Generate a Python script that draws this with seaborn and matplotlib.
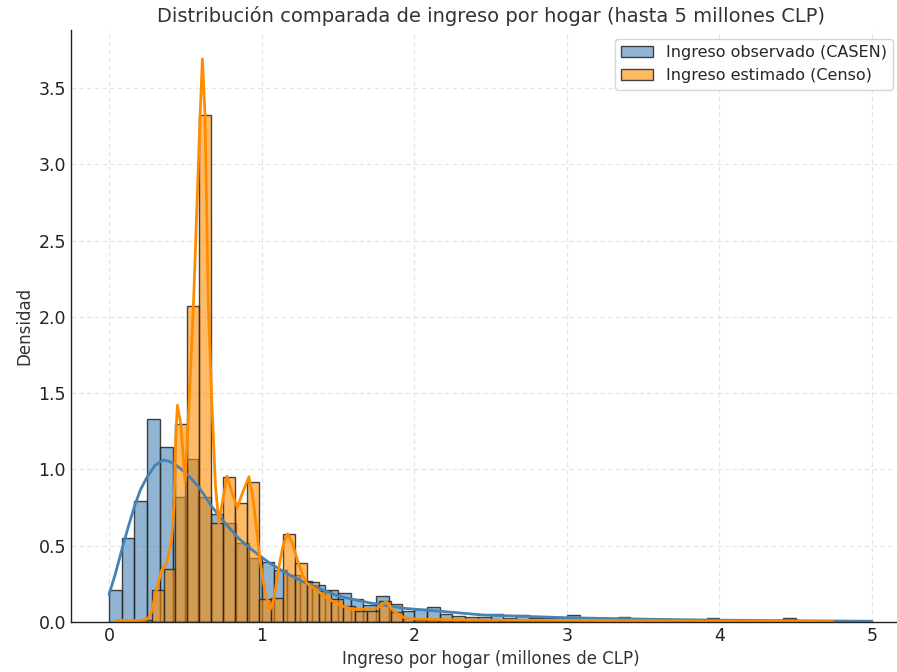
import numpy as np
import pandas as pd
import matplotlib
matplotlib.use("Agg")
import matplotlib.pyplot as plt
import seaborn as sns

# ---------------- data ----------------
casen_range = (0.0, 5.0)          # CASEN histogram range (60 bins)
casen_density = [0.21, 0.55, 0.79, 1.33, 1.15, 0.82, 1.07, 0.82, 0.71, 0.65,
                 0.52, 0.42, 0.39, 0.34, 0.31, 0.27, 0.24, 0.21, 0.19, 0.15,
                 0.11, 0.17, 0.12, 0.07, 0.085, 0.10, 0.05, 0.04, 0.035, 0.035,
                 0.05, 0.025, 0.045, 0.025, 0.025, 0.025, 0.045, 0.015, 0.015, 0.012,
                 0.03, 0.012, 0.01, 0.01, 0.008, 0.008, 0.008, 0.024, 0.006, 0.006,
                 0.006, 0.005, 0.005, 0.024, 0.004, 0.004, 0.004, 0.004, 0.003, 0.003]

censo_range = (0.044, 4.742)      # Censo histogram range (60 bins)
censo_density = [0.002, 0.003, 0.01, 0.21, 0.35, 1.30, 2.07, 3.32, 0.65, 0.95,
                 0.78, 0.92, 0.15, 0.16, 0.58, 0.385, 0.265, 0.205, 0.15, 0.105,
                 0.072, 0.072, 0.14, 0.068, 0.024, 0.015, 0.012, 0.012, 0.01, 0.01,
                 0.01, 0.01, 0.009, 0.009, 0.009, 0.008, 0.008, 0.008, 0.008, 0.007,
                 0.007, 0.007, 0.007, 0.006, 0.006, 0.006, 0.006, 0.006, 0.005, 0.005,
                 0.005, 0.005, 0.005, 0.005, 0.004, 0.004, 0.004, 0.004, 0.004, 0.004]

casen_kde_x = [0.0, 0.04, 0.083, 0.125, 0.166, 0.205, 0.247, 0.30, 0.356, 0.40,
               0.45, 0.50, 0.585, 0.673, 0.755, 0.847, 0.935, 1.0, 1.055, 1.12,
               1.2, 1.28, 1.4, 1.5, 1.71, 1.93, 2.235, 2.45, 3.0, 3.545, 4.0, 4.5, 5.0]
casen_kde_y = [0.18, 0.31, 0.47, 0.62, 0.755, 0.865, 0.945, 1.025, 1.062, 1.05,
               1.02, 0.98, 0.89, 0.757, 0.655, 0.55, 0.475, 0.425, 0.385, 0.345,
               0.30, 0.26, 0.21, 0.17, 0.125, 0.09, 0.065, 0.046, 0.028, 0.018, 0.012,
               0.008, 0.005]

censo_kde_x = [0.044, 0.2, 0.255, 0.28, 0.30, 0.345, 0.378, 0.41, 0.426, 0.437,
               0.448, 0.47, 0.498, 0.526, 0.553, 0.597, 0.612, 0.629, 0.651, 0.673,
               0.697, 0.72, 0.745, 0.773, 0.805, 0.84, 0.88, 0.917, 0.945, 0.968,
               0.99, 1.022, 1.055, 1.08, 1.11, 1.14, 1.17, 1.20, 1.23, 1.26,
               1.295, 1.36, 1.43, 1.513, 1.6, 1.69, 1.754, 1.815, 1.87, 1.93,
               2.02, 2.5, 3.0, 3.5, 4.0, 4.5, 4.742]
censo_kde_y = [0.01, 0.01, 0.02, 0.07, 0.166, 0.34, 0.385, 0.54, 0.757, 1.2,
               1.42, 1.30, 0.92, 1.46, 2.07, 3.32, 3.69, 3.32, 2.07, 1.46,
               0.9, 0.648, 0.8, 0.956, 0.85, 0.75, 0.86, 0.952, 0.8, 0.6,
               0.4, 0.2, 0.08, 0.15, 0.34, 0.5, 0.578, 0.52, 0.42, 0.33,
               0.255, 0.21, 0.155, 0.11, 0.082, 0.085, 0.09, 0.133, 0.068, 0.03,
               0.018, 0.012, 0.01, 0.008, 0.006, 0.004, 0.003]

labels = ["Ingreso observado (CASEN)", "Ingreso estimado (Censo)"]
title = "Distribución comparada de ingreso por hogar (hasta 5 millones CLP)"
xlabel = "Ingreso por hogar (millones de CLP)"
ylabel = "Densidad"

# ---------------- style ----------------
sns.set_style("white")
plt.rcParams["font.family"] = ["DejaVu Sans"]

fig = plt.figure(figsize=(8.97, 6.72), dpi=100)
ax = fig.add_axes([0.079, 0.0744, 0.9357, 0.881])
ax.set_axisbelow(True)
ax.grid(True, linestyle=(0, (4, 3)), color="#e3e3e3", linewidth=0.8)


def hist_frame(rng, dens):
    edges = np.linspace(rng[0], rng[1], len(dens) + 1)
    centers = (edges[:-1] + edges[1:]) / 2
    return list(edges), pd.DataFrame({"ingreso": centers, "densidad": dens})


casen_edges, casen_df = hist_frame(casen_range, casen_density)
censo_edges, censo_df = hist_frame(censo_range, censo_density)

edge = (0.15, 0.15, 0.15, 0.85)
sns.histplot(data=casen_df, x="ingreso", weights="densidad", bins=casen_edges,
             stat="count", color="steelblue", alpha=0.6, edgecolor=edge,
             linewidth=1.0, label=labels[0], ax=ax)
sns.histplot(data=censo_df, x="ingreso", weights="densidad", bins=censo_edges,
             stat="count", color="darkorange", alpha=0.6, edgecolor=edge,
             linewidth=1.0, label=labels[1], ax=ax)

casen_kde = pd.DataFrame({"x": casen_kde_x, "y": casen_kde_y})
censo_kde = pd.DataFrame({"x": censo_kde_x, "y": censo_kde_y})
sns.lineplot(data=casen_kde, x="x", y="y", color="steelblue", linewidth=2.0, ax=ax)
sns.lineplot(data=censo_kde, x="x", y="y", color="darkorange", linewidth=2.0, ax=ax)

ax.set_xlim(-0.25, 5.25)
ax.set_ylim(0, 3.88)
ax.set_xticks([0, 1, 2, 3, 4, 5])
ax.set_yticks(np.arange(0, 3.51, 0.5))
ax.tick_params(axis="both", labelsize=12.5, direction="in", length=4,
               color="#222222", labelcolor="#222222")
ax.set_title(title, fontsize=14, color="#333333")
ax.set_xlabel(xlabel, fontsize=12, color="#333333")
ax.set_ylabel(ylabel, fontsize=12, color="#333333")
for s in ["top", "right"]:
    ax.spines[s].set_visible(False)
for s in ["left", "bottom"]:
    ax.spines[s].set_color("#222222")
    ax.spines[s].set_linewidth(1.0)

handles = list(ax.containers)
ax.legend(handles, labels, loc="upper right", bbox_to_anchor=(0.9796, 0.985),
          borderaxespad=0, fontsize=11.5, frameon=True, edgecolor="#cccccc")

fig.savefig("out.png", dpi=100)
